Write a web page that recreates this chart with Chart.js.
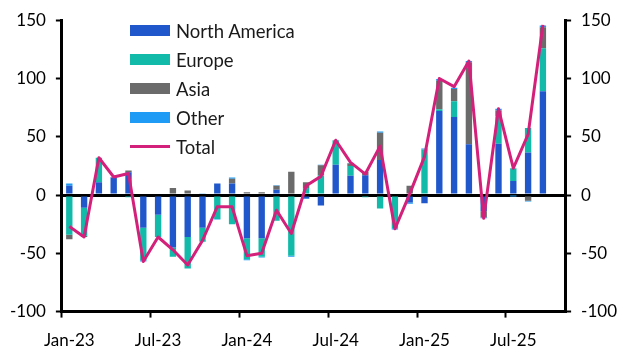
<!DOCTYPE html>
<html>
<head>
<meta charset="utf-8">
<script src="https://cdn.jsdelivr.net/npm/chart.js@4/dist/chart.umd.min.js"></script>
<style>
    html, body { margin: 0; padding: 0; background: #fff; }
    #wrap { position: relative; width: 632px; height: 364px; }
    #legend {
        position: absolute; left: 130px; top: 16px;
        font-family: Lato, sans-serif; font-size: 18.5px; color: #1a1a1a;
    }
    .item { height: 29px; display: flex; align-items: center; }
    .swatch { width: 40px; height: 11px; margin-right: 6px; }
    .stroke { width: 40px; height: 3px; margin-right: 6px; }
</style>
</head>
<body>
<div id="wrap">
    <canvas id="flowsChart"></canvas>
    <div id="legend"></div>
</div>
<script>
const months = ['Jan-23', 'Feb-23', 'Mar-23', 'Apr-23', 'May-23', 'Jun-23', 'Jul-23', 'Aug-23', 'Sep-23', 'Oct-23', 'Nov-23', 'Dec-23',
    'Jan-24', 'Feb-24', 'Mar-24', 'Apr-24', 'May-24', 'Jun-24', 'Jul-24', 'Aug-24', 'Sep-24', 'Oct-24', 'Nov-24', 'Dec-24',
    'Jan-25', 'Feb-25', 'Mar-25', 'Apr-25', 'May-25', 'Jun-25', 'Jul-25', 'Aug-25', 'Sep-25', 'Oct-25'];

const northAmerica = [8, -11, 11, 15, 19.5, -28, -17, -45, -36, -28, 10, 10, -37, -37, 4.5, 0, -3, -9, 26, 16.5, 17, 30, 0, -6.5, -7, 72, 67, 43.5, -14, 44, 12, 36.5, 89, null];
const europe = [-34, -24, 21, 0, -2, -28, -19, -8, -27, -12, -20.5, -25, -18, -16, -22, -52, 6, 17, 21, 8.5, -2, -11.5, -28.5, 0, 39, 1.5, 13.5, 0, 0, 23.5, 11, 21, 37, null];
const asia = [-4, -1, 0, 0, 1.5, 0, 0, 6, 4, 0, 0, 4, 2.5, 2.5, 3.5, 20, 5, 8.5, 0, 2, 3, 23.5, 0, 8, 0, 24.5, 10.5, 70.5, -5, 5, 0, -5, 18, null];
const other = [2, 0, 0, 0.5, 0, -1, 0, 0, 0, 1, -0.5, 1, -1, -0.5, 0.5, -1, -0.5, 0.5, 0, 0.5, 0, 1, -1, -1, 1, 1.5, 1, 1, -1, 1.5, -0.5, -0.5, 1.5, null];
const total = [-27, -36, 32, 15.5, 18.5, -57, -36, -47, -60, -39, -10, -10, -52, -50, -13, -33, 8, 16, 47, 28, 18, 42, -29, 1, 33, 100, 93, 115, -20, 74, 23, 52, 146, null];

const yTicks = [-100, -50, 0, 50, 100, 150];

const colors = {
    northAmerica: '#2058cc',
    europe: '#12bba9',
    asia: '#6b6b6b',
    other: '#1f9bf5',
    total: '#d3207a'
};

function barSet(label, data, color) {
    return {
        type: 'bar',
        label: label,
        data: data,
        backgroundColor: color,
        borderWidth: 0,
        barPercentage: 0.43,
        categoryPercentage: 1,
        order: 1
    };
}

const tickFont = { family: 'Lato, sans-serif', size: 17 };

function valueAxis(position) {
    return {
        position: position,
        stacked: position === 'left',
        min: yTicks[0],
        max: yTicks[yTicks.length - 1],
        afterBuildTicks: function (axis) {
            axis.ticks = yTicks.map(function (v) { return { value: v }; });
        },
        ticks: { color: '#000', font: tickFont, padding: 10 },
        grid: {
            drawOnChartArea: position === 'left',
            color: function (ctx) {
                return ctx.tick && ctx.tick.value === 0 ? '#000' : 'rgba(0,0,0,0)';
            },
            lineWidth: 3,
            tickColor: '#000',
            tickLength: 6,
            tickWidth: 2
        },
        border: { color: '#000', width: 3 },
        z: 1
    };
}

new Chart(document.getElementById('flowsChart').getContext('2d'), {
    data: {
        labels: months,
        datasets: [
            {
                type: 'line',
                label: 'Total',
                data: total,
                borderColor: colors.total,
                backgroundColor: colors.total,
                borderWidth: 3,
                borderJoinStyle: 'round',
                pointRadius: 0,
                tension: 0,
                fill: false,
                stack: 'total',
                order: 0
            },
            barSet('North America', northAmerica, colors.northAmerica),
            barSet('Europe', europe, colors.europe),
            barSet('Asia', asia, colors.asia),
            barSet('Other', other, colors.other)
        ]
    },
    options: {
        responsive: true,
        maintainAspectRatio: false,
        animation: false,
        layout: { padding: { top: -6, left: 0, right: 5, bottom: 0 } },
        plugins: {
            legend: { display: false },
            tooltip: { enabled: false }
        },
        scales: {
            x: {
                stacked: true,
                offset: true,
                grid: {
                    offset: true,
                    drawOnChartArea: false,
                    tickLength: 6,
                    tickWidth: 2,
                    tickColor: function (ctx) {
                        return ctx.index % 6 === 0 ? '#000' : 'rgba(0,0,0,0)';
                    }
                },
                border: { color: '#000', width: 3 },
                ticks: {
                    autoSkip: false,
                    maxRotation: 0,
                    padding: 13,
                    color: '#000',
                    font: tickFont,
                    callback: function (value, index) {
                        return index % 6 === 0 ? months[index] : '';
                    }
                }
            },
            y: valueAxis('left'),
            y2: valueAxis('right')
        }
    }
});

// legend on the chart area, one row per series
const legendBox = document.getElementById('legend');
[
    ['North America', colors.northAmerica, 'swatch'],
    ['Europe', colors.europe, 'swatch'],
    ['Asia', colors.asia, 'swatch'],
    ['Other', colors.other, 'swatch'],
    ['Total', colors.total, 'stroke']
].forEach(function (entry) {
    const row = document.createElement('div');
    row.className = 'item';
    const mark = document.createElement('span');
    mark.className = entry[2];
    mark.style.background = entry[1];
    const text = document.createElement('span');
    text.textContent = entry[0];
    row.appendChild(mark);
    row.appendChild(text);
    legendBox.appendChild(row);
});
</script>
</body>
</html>
